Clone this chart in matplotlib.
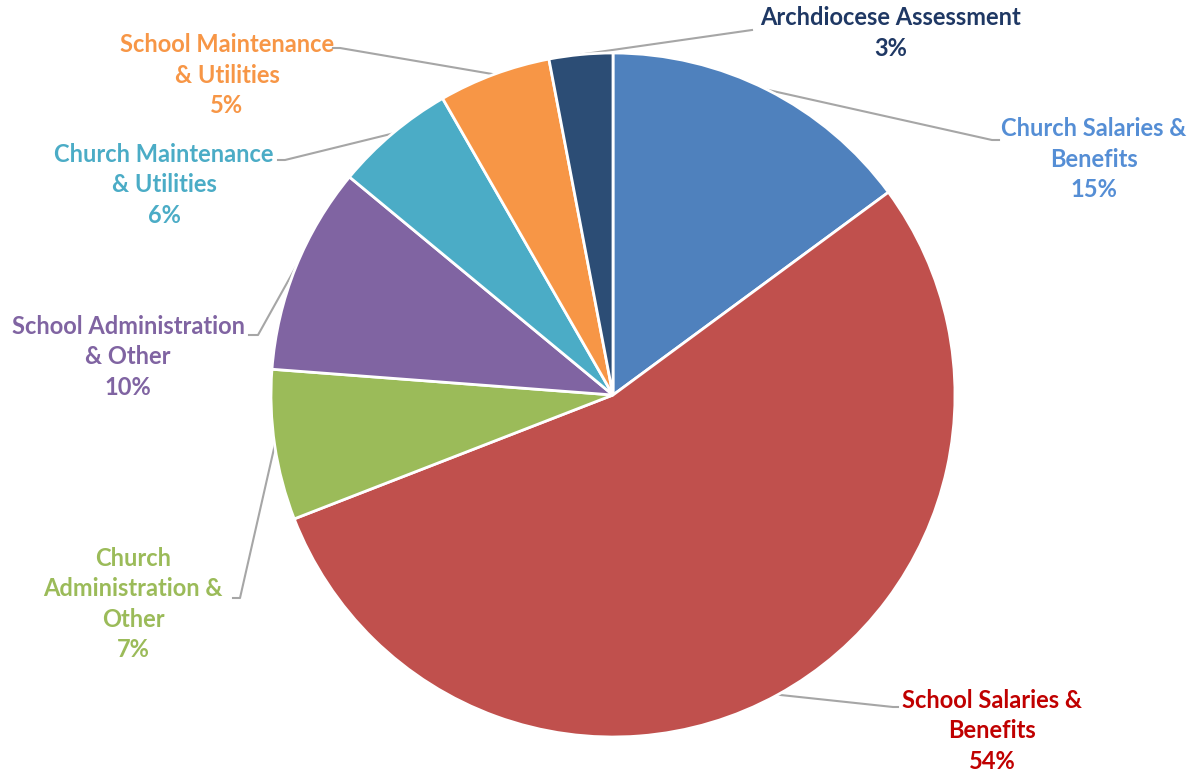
import matplotlib
matplotlib.use("Agg")
import matplotlib.pyplot as plt
import numpy as np

# slices, clockwise from 12 o'clock
labels = ["Church Salaries &\nBenefits", "School Salaries &\nBenefits",
          "Church\nAdministration &\nOther", "School Administration\n& Other",
          "Church Maintenance\n& Utilities", "School Maintenance\n& Utilities",
          "Archdiocese Assessment"]
shares = [14.9, 54.2, 7.1, 9.8, 5.7, 5.3, 3.0]
colors = ["#4F81BD", "#C0504D", "#9BBB59", "#8064A2", "#4BACC6", "#F79646", "#2C4D75"]
text_colors = ["#558ED5", "#C00000", "#9BBB59", "#8064A2", "#4BACC6", "#F79646", "#1F3864"]

W, H = 1199, 774
cx, cy, R = 613, 395, 342


def px(x, y):
    # pixel position -> data units (pie radius = 1)
    return (x - cx) / R, (cy - y) / R


# label centres and leader line elbow/end in pixels
label_pos = [(1094, 159), (992, 731), (133, 604), (128, 357), (164, 185), (227, 75), (891, 33)]
elbows = [(992, 140), (893, 707), (240, 598), (258, 335), (285, 160), (340, 48), (752, 30)]
ends = [(999, 140), (898, 707), (233, 598), (249, 335), (278, 160), (333, 48), (752, 30)]

fig = plt.figure(figsize=(W / 100, H / 100), dpi=100)
ax = fig.add_axes([0, 0, 1, 1])

wedges, _ = ax.pie(shares, colors=colors, startangle=90, counterclock=False, radius=1,
                   wedgeprops=dict(edgecolor="white", linewidth=2))
ax.set_xlim(-cx / R, (W - cx) / R)
ax.set_ylim(-(H - cy) / R, cy / R)
ax.set_aspect("equal")
ax.axis("off")

total = sum(shares)
cum = 0
for i, s in enumerate(shares):
    mid = np.deg2rad(90 - (cum + s / 2) / total * 360)
    cum += s
    x0, y0 = np.cos(mid), np.sin(mid)
    ex, ey = px(*elbows[i])
    fx, fy = px(*ends[i])
    ax.plot([x0, ex, fx], [y0, ey, fy], color="#A6A6A6", lw=1.5, zorder=0.5)
    tx, ty = px(*label_pos[i])
    ax.text(tx, ty, f"{labels[i]}\n{round(s)}%", ha="center", va="center",
            color=text_colors[i], fontsize=17, fontweight="bold", family="Lato",
            linespacing=1.4)

fig.savefig("out.png", dpi=100)
